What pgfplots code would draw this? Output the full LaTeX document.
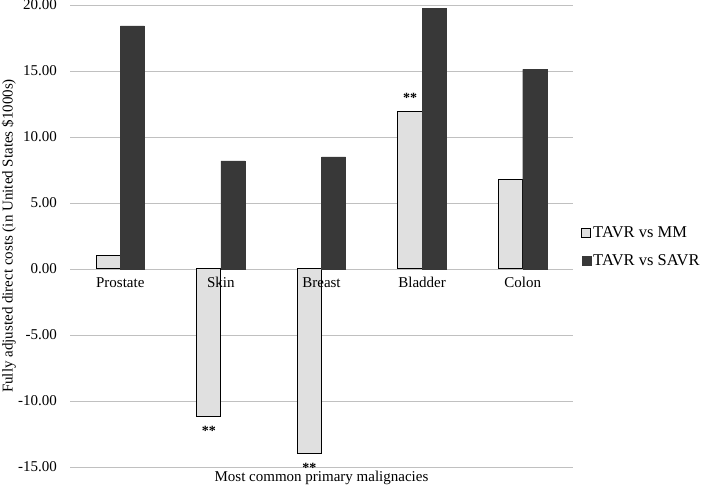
\documentclass[border=0pt]{standalone}
\usepackage{fontspec}
\setmainfont{Liberation Serif}
\usepackage{pgfplots}
\pgfplotsset{compat=1.18}
\definecolor{lightbar}{HTML}{E0E0E0}
\definecolor{darkbar}{HTML}{383838}
\definecolor{gridc}{HTML}{C0C0C0}
\begin{document}
\fontsize{15bp}{18bp}\selectfont
\begin{tikzpicture}
\begin{axis}[
  name=ax,
  set layers=standard,
  scale only axis, width=503bp, height=462bp,
  xmin=-0.5, xmax=4.5, ymin=-15, ymax=20,
  axis line style={draw=none},
  major tick length=0,
  ymajorgrids, grid style={gridc, line width=0.9bp},
  ytick={-15,-10,-5,0,5,10,15,20},
  yticklabels={-15.00,-10.00,-5.00,0.00,5.00,10.00,15.00,20.00},
  yticklabel style={anchor=east, xshift=-8bp},
  xtick={0,1,2,3,4},
  xtick pos=bottom, ytick pos=left,
  xticklabels={Prostate,Skin,Breast,Bladder,Colon},
  xticklabel style={anchor=north, yshift=195bp},
  xlabel={Most common primary malignacies},
  xlabel style={at={(axis description cs:0.5,0)}, anchor=north, inner sep=1bp, yshift=-3bp},
  ylabel={Fully adjusted direct costs (in United States \$1000s)},
  ylabel style={at={(axis description cs:0,0.5)}, anchor=south, yshift=49bp},
  clip=false,
  legend style={draw=none, fill=none, at={(1.016,0.476)}, anchor=west, row sep=11bp, inner sep=0pt, font=\fontsize{16.5bp}{19bp}\selectfont},
  legend cell align=left,
]
\addplot[on layer=axis ticks, ybar, bar width=0.24, bar shift=-0.12, fill=lightbar, draw=black, line width=1bp,
  legend image code/.code={\draw[fill=lightbar, draw=black, line width=1bp] (0bp,-4.5bp) rectangle (9bp,4.5bp);}]
  coordinates {(0,1.0) (1,-11.2) (2,-14.0) (3,11.95) (4,6.75)};
\addlegendentry{TAVR vs MM}
\addplot[on layer=axis ticks, ybar, bar width=0.24, bar shift=0.12, fill=darkbar, draw=darkbar,
  legend image code/.code={\draw[fill=darkbar, draw=darkbar] (0bp,-4.5bp) rectangle (9bp,4.5bp);}]
  coordinates {(0,18.42) (1,8.2) (2,8.5) (3,19.75) (4,15.13)};
\addlegendentry{TAVR vs SAVR}
\node[font=\bfseries\fontsize{14bp}{14bp}\selectfont] at (axis cs:2.88,12.95) {**};
\node[font=\bfseries\fontsize{14bp}{14bp}\selectfont] at (axis cs:0.88,-12.3) {**};
\node[font=\bfseries\fontsize{14bp}{14bp}\selectfont] at (axis cs:1.88,-15.1) {**};
\end{axis}
\pgfresetboundingbox
\path ([xshift=-70bp,yshift=-19bp]ax.south west) rectangle ([xshift=136bp,yshift=5bp]ax.north east);
\end{tikzpicture}
\end{document}
